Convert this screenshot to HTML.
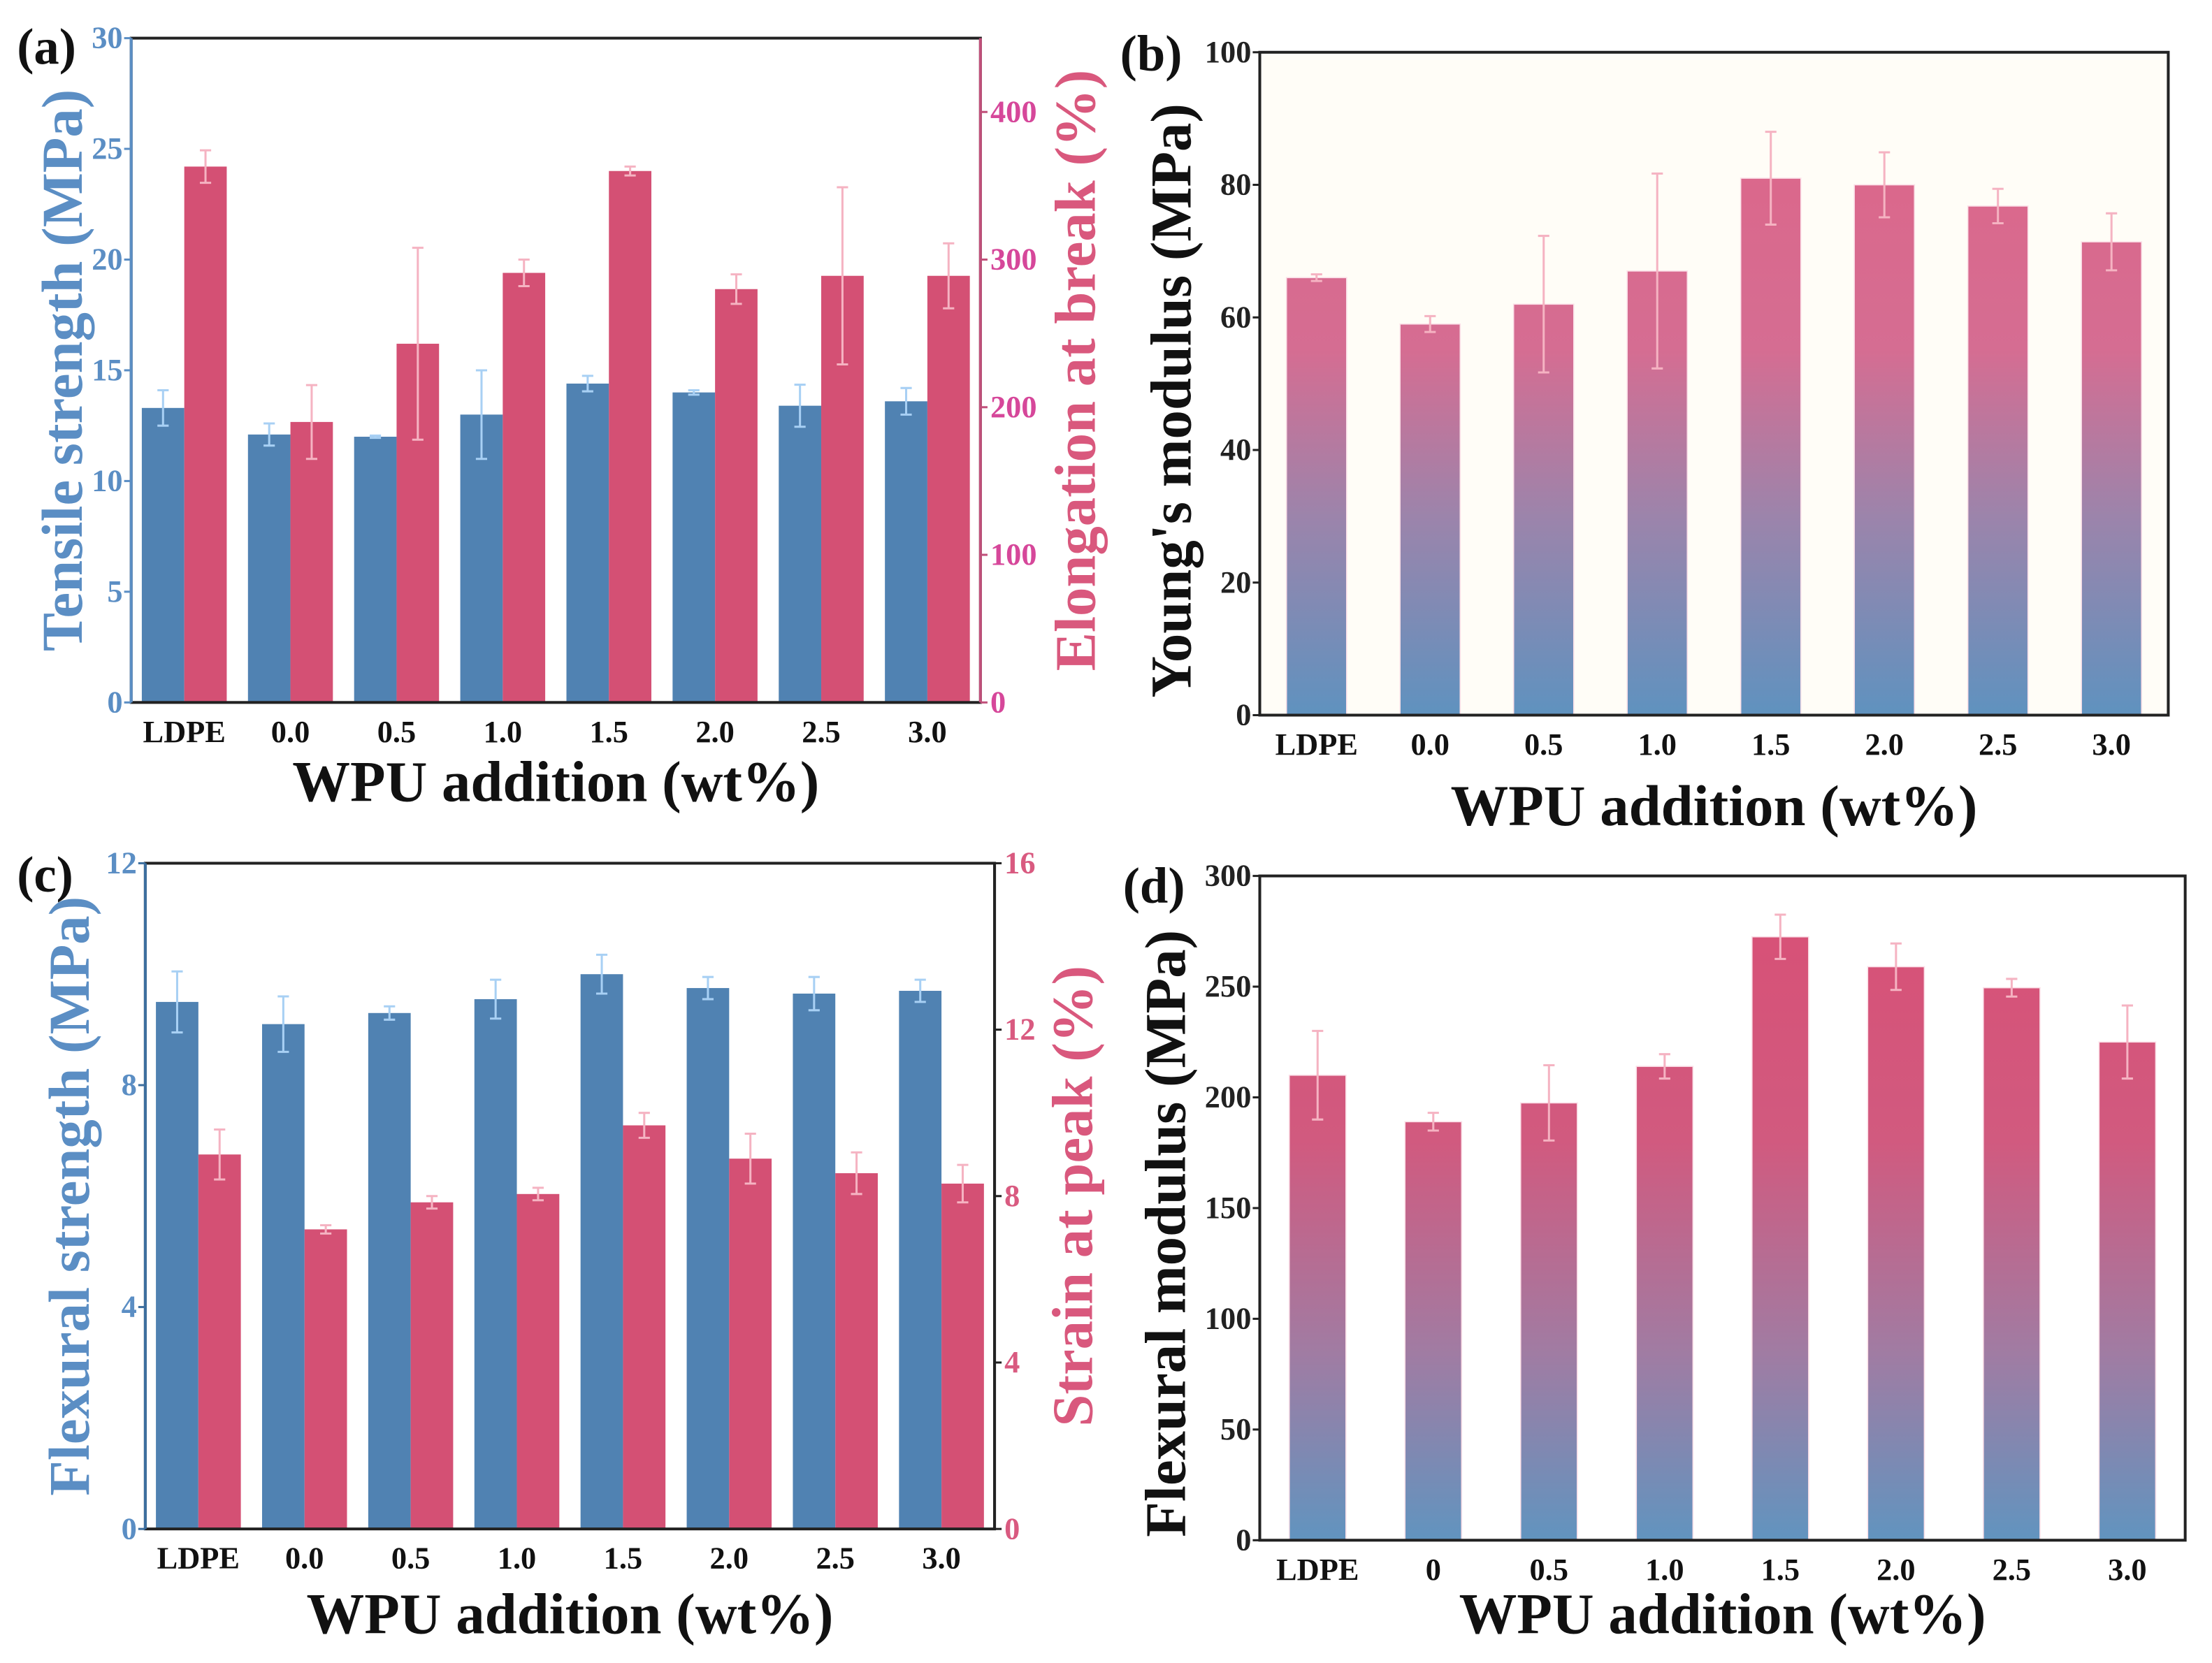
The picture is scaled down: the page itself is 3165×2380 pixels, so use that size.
<!DOCTYPE html>
<html><head><meta charset="utf-8"><style>html,body{margin:0;padding:0;background:#fff}svg{display:block}text{font-family:"Liberation Serif",serif;font-weight:bold}</style></head>
<body>
<svg id="fig" width="3165" height="2380" viewBox="0 0 1568 1179" xmlns="http://www.w3.org/2000/svg">
<defs>
<linearGradient id="gb" gradientUnits="userSpaceOnUse" x1="0" y1="37" x2="0" y2="507"><stop offset="0" stop-color="#df6487"/><stop offset="0.45" stop-color="#d56d92"/><stop offset="0.7" stop-color="#9c84ab"/><stop offset="1" stop-color="#5f92bf"/></linearGradient>
<linearGradient id="gd" gradientUnits="userSpaceOnUse" x1="0" y1="621" x2="0" y2="1092"><stop offset="0" stop-color="#d94f75"/><stop offset="0.4" stop-color="#d15a7f"/><stop offset="0.72" stop-color="#a07ca3"/><stop offset="1" stop-color="#6194bf"/></linearGradient>
</defs>
</svg>
<script>
const cats=["LDPE","0.0","0.5","1.0","1.5","2.0","2.5","3.0"];
const catsD=["LDPE","0","0.5","1.0","1.5","2.0","2.5","3.0"];
const tensile=[13.3,12.1,12.0,13.0,14.4,14.0,13.4,13.6];
const tensileErr=[0.8,0.5,0.05,2.0,0.35,0.1,0.95,0.6];
const elong=[363,190,243,291,360,280,289,289];
const elongErr=[11,25,65,9,3,10,60,22];
const young=[66,59,62,67,81,80,76.8,71.4];
const youngErr=[0.5,1.2,10.3,14.7,7,4.9,2.6,4.3];
const flexS=[9.5,9.1,9.3,9.55,10.0,9.75,9.65,9.7];
const flexSErr=[0.55,0.5,0.12,0.35,0.35,0.2,0.3,0.2];
const strain=[9.0,7.2,7.85,8.05,9.7,8.9,8.55,8.3];
const strainErr=[0.6,0.1,0.15,0.15,0.3,0.6,0.5,0.45];
const flexM=[210,189,197.5,214,272.5,259,249.5,225];
const flexMErr=[20,4,17,5.5,10,10.5,4,16.5];
const ticksA=[0,5,10,15,20,25,30], ticksAR=[0,100,200,300,400];
const ticksB=[0,20,40,60,80,100];
const ticksC=[0,4,8,12], ticksCR=[0,4,8,12,16];
const ticksD=[0,50,100,150,200,250,300];

const svg=document.getElementById('fig');const NS="http://www.w3.org/2000/svg";
function el(t,a,p){const e=document.createElementNS(NS,t);for(const k in a)e.setAttribute(k,a[k]);(p||svg).appendChild(e);return e;}
function txt(s,a,p){const e=el('text',a,p);e.textContent=s;return e;}

function panel(o){
  const g=el('g',{});
  
  
  const yL=v=>o.bot-(v-o.min)/(o.max-o.min)*(o.bot-o.top);
  const yR=o.rmax?v=>o.bot-v/o.rmax*(o.bot-o.top):null;
  const slot=(o.right-o.left)/o.cats.length;
  if(o.bg){const r=el('rect',{x:o.left,y:o.top,width:o.right-o.left,height:o.bot-o.top,fill:o.bg},g);}
  o.cats.forEach((c,i)=>{
    const cx=o.left+slot*(i+0.5);
    if(o.rvals){
      const w=slot*0.4;
      const b1=el('rect',{x:cx-w,y:yL(o.vals[i]),width:w,height:o.bot-yL(o.vals[i]),fill:'#5082b2'},g);
      
      const b2=el('rect',{x:cx,y:yR(o.rvals[i]),width:w,height:o.bot-yR(o.rvals[i]),fill:'#d45074'},g);
      
      err(g,cx-w/2,yL(o.vals[i]-o.errs[i]),yL(o.vals[i]+o.errs[i]),'#a8d0f4');
      err(g,cx+w/2,yR(o.rvals[i]-o.rerrs[i]),yR(o.rvals[i]+o.rerrs[i]),'#f5b3c2');
    } else {
      const w=slot*o.bw;
      const b=el('rect',{x:cx-w/2,y:yL(o.vals[i]),width:w,height:o.bot-yL(o.vals[i]),fill:o.fill,stroke:'#fbe0e8','stroke-width':0.8},g);
      
      err(g,cx,yL(o.vals[i]-o.errs[i]),yL(o.vals[i]+o.errs[i]),'#f5b3c2');
    }
    const t=txt(c,{x:cx,y:o.bot+28,'font-size':22,'text-anchor':'middle',fill:'#111'},g);
    
  });
  el('rect',{x:o.left,y:o.top,width:o.right-o.left,height:o.bot-o.top,fill:'none',stroke:'#222','stroke-width':2},g);
  if(o.lcol)el('line',{x1:o.left,y1:o.top,x2:o.left,y2:o.bot,stroke:o.lcol,'stroke-width':2},g);
  if(o.rcol)el('line',{x1:o.right,y1:o.top,x2:o.right,y2:o.bot,stroke:o.rcol,'stroke-width':2},g);
  o.ticks.forEach(v=>{
    el('line',{x1:o.left-5,y1:yL(v),x2:o.left,y2:yL(v),stroke:o.lcol||'#222','stroke-width':1.5},g);
    const t=txt(String(v),{x:o.left-6,y:yL(v)+7,'font-size':22,'text-anchor':'end',fill:o.ltc||'#222','font-weight':o.ltc?'normal':'bold'},g);
    
  });
  if(o.rticks)o.rticks.forEach(v=>{
    el('line',{x1:o.right,y1:yR(v),x2:o.right+5,y2:yR(v),stroke:o.rcol,'stroke-width':1.5},g);
    const t=txt(String(v),{x:o.right+7,y:yR(v)+7,'font-size':22,fill:o.rtc,'font-weight':'normal'},g);
    
  });
  const yc=(o.top+o.bot)/2+(o.ytoff||0);
  const yt=txt(o.ytitle,{x:0,y:0,'font-size':41,'text-anchor':'middle',fill:o.ytc||'#111',transform:`translate(${o.ytx},${yc}) rotate(-90)`},g);
  
  if(o.rtitle){const rt=txt(o.rtitle,{x:0,y:0,'font-size':41,'text-anchor':'middle',fill:o.rtc2,transform:`translate(${o.rtx},${(o.top+o.bot)/2}) rotate(-90)`},g);
    }
  const xt=txt('WPU addition (wt%)',{x:(o.left+o.right)/2,y:o.xty,'font-size':41,'text-anchor':'middle',fill:'#111'},g);
  
  const pl=txt(o.label,{x:o.lx,y:o.ly,'font-size':36,fill:'#111'},g);
  
}
function err(g,x,y1,y2,c){
  const e=el('g',{},g);
  
  el('line',{x1:x,y1:y1,x2:x,y2:y2,stroke:c,'stroke-width':1.5},e);
  el('line',{x1:x-4,y1:y1,x2:x+4,y2:y1,stroke:c,'stroke-width':1.5},e);
  el('line',{x1:x-4,y1:y2,x2:x+4,y2:y2,stroke:c,'stroke-width':1.5},e);
}
panel({id:'a',label:'(a)',lx:12,ly:45,left:93,right:695,top:27,bot:498,min:0,max:30,rmax:450,cats:cats,
 vals:tensile,errs:tensileErr,rvals:elong,rerrs:elongErr,ticks:ticksA,rticks:ticksAR,
 lcol:'#5b8ec4',rcol:'#c0507a',ltc:'#5b8ec4',rtc:'#d6479a',ytitle:'Tensile strength (MPa)',ytc:'#5b8ec4',ytx:58,
 rtitle:'Elongation at break (%)',rtc2:'#d9587d',rtx:776,xty:568});
panel({id:'b',label:'(b)',lx:794,ly:50,left:893,right:1537,top:37,bot:507,min:0,max:100,cats:cats,
 vals:young,errs:youngErr,ticks:ticksB,fill:'url(#gb)',bw:0.53,bg:'#fffdf7',ytitle:"Young's modulus (MPa)",ytx:844,ytoff:12,xty:585});
panel({id:'c',label:'(c)',lx:12,ly:632,left:103,right:705,top:612,bot:1084,min:0,max:12,rmax:16,cats:cats,
 vals:flexS,errs:flexSErr,rvals:strain,rerrs:strainErr,ticks:ticksC,rticks:ticksCR,
 lcol:'#3d6f9f',rcol:'#222',ltc:'#5b8ec4',rtc:'#d95a80',ytitle:'Flexural strength (MPa)',ytc:'#5b8ec4',ytx:63,
 rtitle:'Strain at peak (%)',rtc2:'#d9587d',rtx:774,xty:1158});
panel({id:'d',label:'(d)',lx:796,ly:640,left:893,right:1549,top:621,bot:1092,min:0,max:300,cats:catsD,
 vals:flexM,errs:flexMErr,ticks:ticksD,fill:'url(#gd)',bw:0.49,ytitle:'Flexural modulus (MPa)',ytx:840,ytoff:18,xty:1158});
</script>
</body></html>
